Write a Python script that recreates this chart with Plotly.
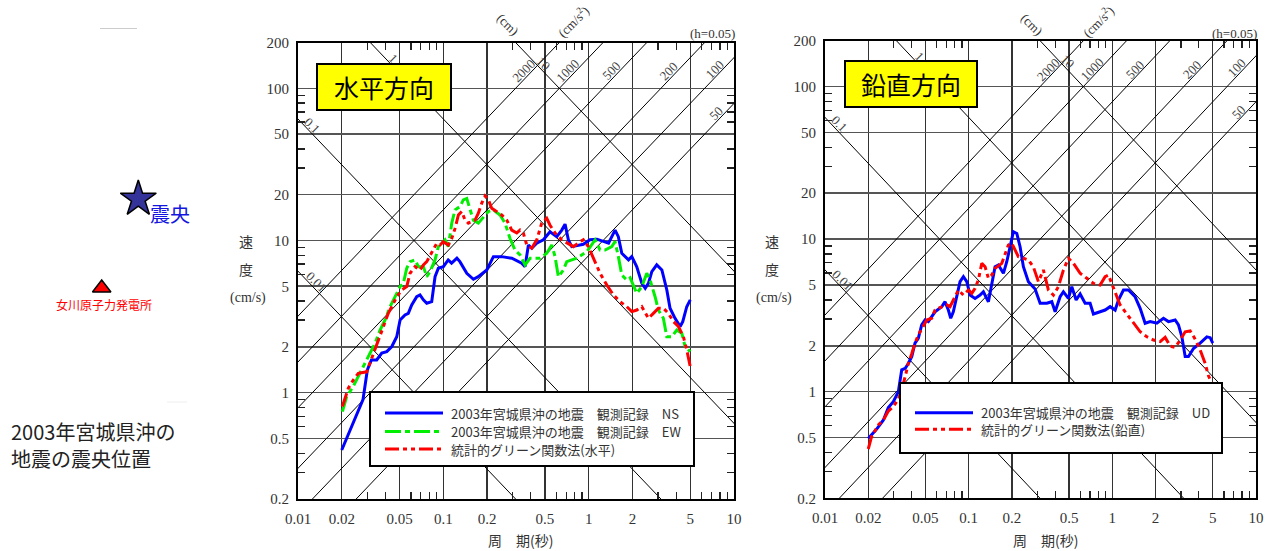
import numpy as np
import plotly.graph_objects as go

W, H = 1273, 551

# ---------------- data (period [s], pseudo velocity [cm/s]) ----------------
ns_period = [0.020, 0.028, 0.030, 0.032, 0.0348, 0.0377, 0.0408, 0.0442, 0.0478, 0.0504, 0.0545, 0.0574,
             0.0606, 0.0656, 0.0691, 0.0729, 0.0769, 0.0832, 0.0877, 0.0924, 0.100, 0.108, 0.114, 0.124,
             0.130, 0.145, 0.161, 0.174, 0.199, 0.221, 0.252, 0.296, 0.346, 0.365, 0.385, 0.406, 0.439,
             0.488, 0.542, 0.603, 0.653, 0.688, 0.725, 0.765, 0.919, 1.02, 1.14, 1.26, 1.37, 1.52, 1.60,
             1.69, 1.88, 1.98, 2.14, 2.32, 2.45, 2.58, 2.72, 2.94, 3.19, 3.45, 3.63, 3.93, 4.26, 4.44, 4.73, 5.0]
ns_velocity = [0.42, 0.90, 1.41, 1.64, 1.64, 1.82, 1.86, 2.01, 2.33, 3.00, 3.24, 3.32, 3.77, 4.27, 4.39, 4.07,
               3.87, 3.96, 5.78, 6.57, 6.73, 7.45, 7.09, 7.64, 7.26, 6.09, 5.56, 5.78, 6.40, 7.83, 7.83, 7.64,
               7.09, 6.73, 9.34, 8.89, 9.59, 10.1, 11.4, 10.6, 11.7, 12.8, 10.1, 9.11, 9.44, 10.1, 10.2, 9.82,
               9.59, 11.7, 10.6, 8.24, 7.45, 7.83, 6.73, 5.24, 4.85, 5.24, 6.24, 6.91, 6.40, 4.73, 3.59, 3.08,
               2.72, 2.93, 3.67, 4.07]

ew_period = [0.0202, 0.0216, 0.0240, 0.0281, 0.0313, 0.0339, 0.0367, 0.0397, 0.0430, 0.0465, 0.0504, 0.0531,
             0.0560, 0.0590, 0.0639, 0.0673, 0.0729, 0.0769, 0.0810, 0.0877, 0.0924, 0.1027, 0.1082, 0.1143,
             0.1204, 0.1303, 0.1373, 0.1449, 0.1527, 0.1609, 0.1741, 0.1885, 0.2041, 0.2209, 0.2456, 0.2658,
             0.2877, 0.3114, 0.3373, 0.3650, 0.3952, 0.4629, 0.5146, 0.5572, 0.5872, 0.6187, 0.6697, 0.7068,
             0.8282, 0.9703, 1.107, 1.198, 1.297, 1.442, 1.519, 1.601, 1.690, 1.830, 1.927, 2.143, 2.320,
             2.512, 2.646, 2.864, 3.018, 3.266, 3.447, 3.733, 4.040, 4.372, 4.607, 5.0]
ew_velocity = [0.75, 0.94, 1.10, 1.48, 1.82, 2.11, 2.58, 3.00, 3.67, 4.27, 4.97, 5.24, 6.57, 7.26, 7.45, 6.73,
               6.73, 5.78, 6.24, 7.45, 9.11, 10.1, 9.11, 13.0, 15.9, 16.7, 18.5, 18.9, 15.9, 13.6, 13.0, 14.3,
               15.5, 15.9, 14.7, 13.0, 10.3, 8.66, 8.03, 6.91, 7.64, 7.64, 8.24, 9.34, 7.83, 5.78, 6.40, 7.26,
               7.64, 8.44, 10.1, 8.66, 8.66, 9.11, 9.82, 7.83, 5.93, 5.50, 5.69, 4.50, 4.97, 6.09, 5.50, 4.27,
               3.49, 3.08, 2.33, 2.33, 2.58, 2.46, 2.01, 1.86]

sgf_h_period = [0.0202, 0.0222, 0.0240, 0.0260, 0.0297, 0.0330, 0.0357, 0.0387, 0.0418, 0.0442, 0.0478, 0.0517,
                0.0560, 0.0590, 0.0639, 0.0691, 0.0729, 0.0769, 0.0832, 0.0901, 0.0949, 0.100, 0.1082, 0.1143,
                0.1204, 0.1269, 0.1339, 0.1411, 0.1486, 0.1653, 0.1741, 0.1838, 0.1936, 0.2041, 0.2153, 0.2331,
                0.2523, 0.2731, 0.2956, 0.3201, 0.3373, 0.3553, 0.3750, 0.4058, 0.4394, 0.4755, 0.5146, 0.5424,
                0.5872, 0.6530, 0.7251, 0.7849, 0.8728, 0.9193, 0.9952, 1.077, 1.198, 1.333, 1.479, 1.645, 1.830,
                1.981, 2.143, 2.320, 2.445, 2.576, 2.788, 3.018, 3.266, 3.536, 3.828, 4.144, 4.485, 4.733, 5.0]
sgf_h_velocity = [0.81, 1.07, 1.21, 1.34, 1.37, 1.82, 2.22, 2.72, 3.32, 3.67, 4.27, 4.73, 4.97, 6.09, 6.73, 6.40,
                  6.91, 7.26, 8.44, 9.59, 9.34, 9.82, 9.34, 10.3, 12.0, 14.7, 15.5, 13.6, 13.0, 13.6, 15.1, 17.6,
                  19.6, 18.5, 16.3, 15.5, 14.7, 13.6, 11.7, 11.2, 11.7, 11.2, 9.34, 8.89, 10.1, 13.0, 14.0, 12.6,
                  11.2, 10.1, 9.59, 9.11, 9.82, 10.1, 9.11, 7.64, 6.09, 5.10, 4.39, 3.96, 3.67, 3.41, 3.49, 3.67,
                  3.32, 3.08, 3.32, 3.59, 3.59, 3.32, 2.93, 2.72, 2.33, 1.91, 1.48]

ud_period = [0.020, 0.0229, 0.0255, 0.0276, 0.0299, 0.0324, 0.0342, 0.0361, 0.0380, 0.0402, 0.0423, 0.0446,
             0.0471, 0.0497, 0.0524, 0.0553, 0.0583, 0.0650, 0.0685, 0.0722, 0.0750, 0.0782, 0.0826, 0.0871,
             0.0919, 0.0970, 0.1023, 0.1108, 0.1201, 0.1266, 0.1372, 0.1448, 0.1527, 0.1610, 0.1745, 0.1842,
             0.1943, 0.2048, 0.2163, 0.2280, 0.2404, 0.2604, 0.2900, 0.3143, 0.3499, 0.3790, 0.3998, 0.4331,
             0.4566, 0.4948, 0.5224, 0.5597, 0.5968, 0.6465, 0.7003, 0.7385, 0.8222, 0.8911, 0.9654, 1.046,
             1.103, 1.195, 1.295, 1.441, 1.562, 1.692, 1.834, 2.041, 2.269, 2.459, 2.737, 2.886, 3.048, 3.214,
             3.388, 3.671, 4.087, 4.551, 4.8, 5.0]
ud_velocity = [0.494, 0.569, 0.652, 0.787, 0.86, 1.0, 1.39, 1.42, 1.53, 1.70, 2.08, 2.24, 2.74, 2.95, 2.88, 3.10,
               3.34, 3.61, 3.89, 3.43, 3.03, 3.34, 4.19, 5.26, 5.67, 5.26, 4.30, 4.09, 4.30, 4.52, 3.89, 5.0,
               6.60, 6.77, 5.97, 7.11, 8.92, 11.2, 10.9, 8.92, 6.60, 5.26, 4.71, 3.80, 3.80, 3.89, 3.34, 4.19,
               4.52, 4.09, 4.88, 3.99, 4.37, 3.80, 3.80, 3.23, 3.34, 3.43, 3.61, 3.43, 3.99, 4.64, 4.64, 4.19,
               3.52, 2.81, 2.88, 2.81, 3.03, 2.88, 2.95, 2.74, 2.29, 1.70, 1.70, 1.92, 2.08, 2.29, 2.26, 2.08]

sgf_v_period = [0.020, 0.0211, 0.0235, 0.0255, 0.0276, 0.0299, 0.0324, 0.0342, 0.0361, 0.0380, 0.0402, 0.0423,
                0.0446, 0.0471, 0.0511, 0.0553, 0.0583, 0.0615, 0.0666, 0.0704, 0.0742, 0.0804, 0.0848, 0.0919,
                0.0995, 0.1051, 0.1108, 0.1168, 0.1234, 0.1301, 0.1372, 0.1448, 0.1527, 0.1701, 0.1793, 0.1890,
                0.1996, 0.2104, 0.2219, 0.2404, 0.2604, 0.2822, 0.3058, 0.3313, 0.3589, 0.3889, 0.4214, 0.4566,
                0.4948, 0.5360, 0.5968, 0.6645, 0.7385, 0.8222, 0.8911, 0.9393, 0.992, 1.046, 1.133, 1.262, 1.403,
                1.562, 1.739, 1.933, 2.152, 2.332, 2.527, 2.737, 2.966, 3.214, 3.482, 3.773, 4.087, 4.429, 4.669, 5.0]
sgf_v_velocity = [0.421, 0.507, 0.605, 0.652, 0.747, 0.797, 0.895, 1.03, 1.25, 1.53, 1.78, 2.08, 2.35, 2.60, 2.95,
                  3.03, 3.43, 3.52, 3.61, 3.70, 3.61, 4.19, 4.64, 4.30, 4.64, 4.41, 4.76, 5.40, 6.94, 6.60, 5.54,
                  5.82, 6.44, 6.94, 8.08, 9.16, 9.39, 8.49, 7.67, 7.49, 7.30, 6.57, 5.26, 6.28, 4.64, 4.30, 4.88,
                  6.28, 7.49, 6.94, 5.97, 5.54, 5.13, 5.0, 5.67, 5.82, 5.13, 4.41, 3.70, 3.23, 2.81, 2.47, 2.29,
                  2.18, 2.13, 2.27, 1.99, 1.95, 2.18, 2.47, 2.50, 2.21, 1.88, 1.53, 1.27, 1.11]

# axis ticks
x_tick_vals = [0.01, 0.02, 0.05, 0.1, 0.2, 0.5, 1, 2, 5, 10]
x_tick_text = ["0.01", "0.02", "0.05", "0.1", "0.2", "0.5", "1", "2", "5", "10"]
y_tick_vals = [0.2, 0.5, 1, 2, 5, 10, 20, 50, 100, 200]
y_tick_text = ["0.2", "0.5", "1", "2", "5", "10", "20", "50", "100", "200"]
x_minor_vals = [0.03, 0.04, 0.06, 0.07, 0.08, 0.09, 0.3, 0.4, 0.6, 0.7, 0.8, 0.9, 3, 4, 6, 7, 8, 9]
y_minor_vals = [0.3, 0.4, 0.6, 0.7, 0.8, 0.9, 3, 4, 6, 7, 8, 9, 30, 40, 60, 70, 80, 90]

# tripartite lines
disp_lines_cm = [0.01, 0.1, 1, 10]
disp_labels = ["0.01", "0.1", "1", "10"]
disp_label_sv = [5.36, 57, 157, 146]
acc_lines_gal = [50, 100, 200, 500, 1000, 2000]
acc_labels = ["50", "100", "200", "500", "1000", "2000"]
acc_label_sv = [68, 133, 130, 130, 130, 130]

legend_h = ["2003年宮城県沖の地震　観測記録　NS", "2003年宮城県沖の地震　観測記録　EW", "統計的グリーン関数法(水平)"]
legend_v = ["2003年宮城県沖の地震　観測記録　UD", "統計的グリーン関数法(鉛直)"]

BLUE, GREEN, RED = "#0000FF", "#00EE00", "#FF0000"
DASH_G = "16px,4px,5px,4px"
DASH_R = "14px,4px,4px,4px,4px,4px"
SERIF = "Liberation Serif"
JP = "Noto Sans CJK JP"

fig = go.Figure()


def px(x):
    return x / W


def py(y):
    return 1 - y / H


def add_panel(xa, ya, curves):
    t_ext = [0.001, 100.0]
    for d in disp_lines_cm:
        fig.add_trace(go.Scatter(x=t_ext, y=[2 * np.pi * d / t for t in t_ext], mode="lines",
                                 line=dict(color="black", width=1), xaxis=xa, yaxis=ya,
                                 hoverinfo="skip", showlegend=False))
    for a in acc_lines_gal:
        fig.add_trace(go.Scatter(x=t_ext, y=[a * t / (2 * np.pi) for t in t_ext], mode="lines",
                                 line=dict(color="black", width=1), xaxis=xa, yaxis=ya,
                                 hoverinfo="skip", showlegend=False))
    for per, vel, color, dash in curves:
        fig.add_trace(go.Scatter(x=per, y=vel, mode="lines", line=dict(color=color, width=3, dash=dash),
                                 xaxis=xa, yaxis=ya, showlegend=False))


add_panel("x", "y", [(ns_period, ns_velocity, BLUE, "solid"),
                     (ew_period, ew_velocity, GREEN, DASH_G),
                     (sgf_h_period, sgf_h_velocity, RED, DASH_R)])
add_panel("x2", "y2", [(ud_period, ud_velocity, BLUE, "solid"),
                       (sgf_v_period, sgf_v_velocity, RED, DASH_R)])

# map-panel markers on a hidden full-figure pixel axis pair
fig.add_trace(go.Scatter(x=[138.3], y=[199], mode="markers", xaxis="x3", yaxis="y3",
                         marker=dict(symbol="star", size=27, color="#333399", line=dict(color="black", width=1.5)),
                         hoverinfo="skip", showlegend=False))
fig.add_trace(go.Scatter(x=[101.7], y=[288], mode="markers", xaxis="x3", yaxis="y3",
                         marker=dict(symbol="triangle-up", size=16, color="#FF0000", line=dict(color="black", width=1.5)),
                         hoverinfo="skip", showlegend=False))

tickfont = dict(family=SERIF, size=15, color="#333")


def xaxis_cfg(dom, anchor):
    return dict(type="log", range=[-2, 1], domain=dom, anchor=anchor,
                tickmode="array", tickvals=x_tick_vals, ticktext=x_tick_text,
                showgrid=True, gridcolor="#333", gridwidth=1.3, ticks="", ticklabelstandoff=5,
                showline=True, linecolor="black", linewidth=2, mirror="allticks", zeroline=False,
                automargin=False,
                minor=dict(tickmode="array", tickvals=x_minor_vals, ticks="inside", ticklen=7,
                           tickwidth=1.3, tickcolor="#222", showgrid=False),
                tickfont=tickfont, fixedrange=True)


def yaxis_cfg(dom, anchor):
    return dict(type="log", range=[np.log10(0.2), np.log10(200)], domain=dom, anchor=anchor,
                tickmode="array", tickvals=y_tick_vals, ticktext=y_tick_text,
                showgrid=True, gridcolor="#555", gridwidth=1.6, ticks="", ticklabelstandoff=4,
                showline=True, linecolor="black", linewidth=2, mirror="allticks", zeroline=False,
                automargin=False,
                minor=dict(tickmode="array", tickvals=y_minor_vals, ticks="inside", ticklen=7,
                           tickwidth=1.3, tickcolor="#222", showgrid=False),
                tickfont=tickfont, fixedrange=True)


fig.update_layout(
    width=W, height=H, autosize=False,
    margin=dict(l=0, r=0, t=0, b=0, pad=0),
    paper_bgcolor="white", plot_bgcolor="rgba(0,0,0,0)",
    showlegend=False,
    xaxis=xaxis_cfg([px(298), px(734)], "y"),
    yaxis=yaxis_cfg([py(499), py(42.5)], "x"),
    xaxis2=xaxis_cfg([px(825), px(1256)], "y2"),
    yaxis2=yaxis_cfg([py(498.3), py(40.7)], "x2"),
    xaxis3=dict(domain=[0, 1], range=[0, W], visible=False, fixedrange=True, anchor="y3"),
    yaxis3=dict(domain=[0, 1], range=[H, 0], visible=False, fixedrange=True, anchor="x3"),
)

annotations = []
shapes = []

# diagonal labels (placed on their lines)
for xr, yr in (("x", "y"), ("x2", "y2")):
    for d, lab, sv in zip(disp_lines_cm, disp_labels, disp_label_sv):
        t = 2 * np.pi * d / sv
        annotations.append(dict(x=np.log10(t), y=np.log10(sv), xref=xr, yref=yr, text=lab, showarrow=False,
                                textangle=45, xshift=8, xanchor="center", yanchor="middle",
                                font=dict(family=SERIF, size=13, color="#444")))
    for a, lab, sv in zip(acc_lines_gal, acc_labels, acc_label_sv):
        t = 2 * np.pi * sv / a
        annotations.append(dict(x=np.log10(t), y=np.log10(sv), xref=xr, yref=yr, text=lab, showarrow=False,
                                textangle=-45, xshift=-8, xanchor="center", yanchor="middle",
                                font=dict(family=SERIF, size=13, color="#444")))


def ptext(x, y, text, size=14, color="#333", family=SERIF, angle=0, xanchor="center", **kw):
    d = dict(x=x, y=y, xref="x3", yref="y3", text=text, showarrow=False,
             textangle=angle, xanchor=xanchor, yanchor="middle",
             font=dict(family=family, size=size, color=color))
    d.update(kw)
    annotations.append(d)


for hx, cmx, csx, ylab_x, xt_x in ((712, 508, 573, 246, 520), (1234, 1032, 1098, 772, 1045)):
    ptext(hx, 33, "(h=0.05)", 13)
    ptext(cmx, 24, "(cm)", 13, angle=45)
    ptext(csx, 21, "(cm/s<sup>2</sup>)", 13, angle=-45)
    ptext(ylab_x, 241, "速", 14, family=JP)
    ptext(ylab_x, 269, "度", 14, family=JP)
    ptext(ylab_x + 2, 298, "(cm/s)", 14)
    ptext(xt_x, 540, "周　期(秒)", 14, family=JP)

# title boxes
for cx, cy, w, h, txt in ((383.7, 87.2, 130, 42, "水平方向"), (910.8, 83.5, 128, 42, "鉛直方向")):
    ptext(cx, cy, txt, 25, color="black", family=JP, width=w, height=h, bgcolor="#FFFF00",
          bordercolor="black", borderwidth=2)


# legends (drawn)
def legend_box(x0, y0, x1, y1, rows, lx0, lx1, tx):
    shapes.append(dict(type="rect", xref="paper", yref="paper", x0=px(x0), x1=px(x1), y0=py(y1), y1=py(y0),
                       fillcolor="white", line=dict(color="black", width=2), layer="above"))
    for yy, color, dash, txt in rows:
        shapes.append(dict(type="line", xref="paper", yref="paper", x0=px(lx0), x1=px(lx1), y0=py(yy), y1=py(yy),
                           line=dict(color=color, width=3, dash=dash), layer="above"))
        ptext(tx, yy, txt, 13, color="#333", family=JP, xanchor="left")


legend_box(370, 392, 694, 466,
           [(413, BLUE, "solid", legend_h[0]), (431.5, GREEN, DASH_G, legend_h[1]), (449, RED, DASH_R, legend_h[2])],
           385, 443, 449)
legend_box(900, 383, 1222, 453,
           [(412.7, BLUE, "solid", legend_v[0]), (429.3, RED, DASH_R, legend_v[1])],
           915, 973, 979)

# map panel texts
ptext(170, 213, "震央", 20, color="#1515E0", family=JP)
ptext(104, 304, "女川原子力発電所", 12, color="#FF0000", family=JP)
ptext(9, 431, "2003年宮城県沖の", 20, color="#222", family=JP, xanchor="left")
ptext(9, 458, "地震の震央位置", 20, color="#222", family=JP, xanchor="left")
shapes.append(dict(type="line", xref="paper", yref="paper", x0=px(100), x1=px(137), y0=py(28.5), y1=py(28.5),
                   line=dict(color="#cccccc", width=1)))
shapes.append(dict(type="line", xref="paper", yref="paper", x0=px(167), x1=px(187), y0=py(402), y1=py(402),
                   line=dict(color="#eeeeee", width=1)))

fig.update_layout(annotations=annotations, shapes=shapes)
fig.write_html("out.html", config={"displayModeBar": False, "staticPlot": True},
               post_script="document.body.style.margin='0px';document.body.style.padding='0px';"
                           "document.documentElement.style.margin='0px';")
